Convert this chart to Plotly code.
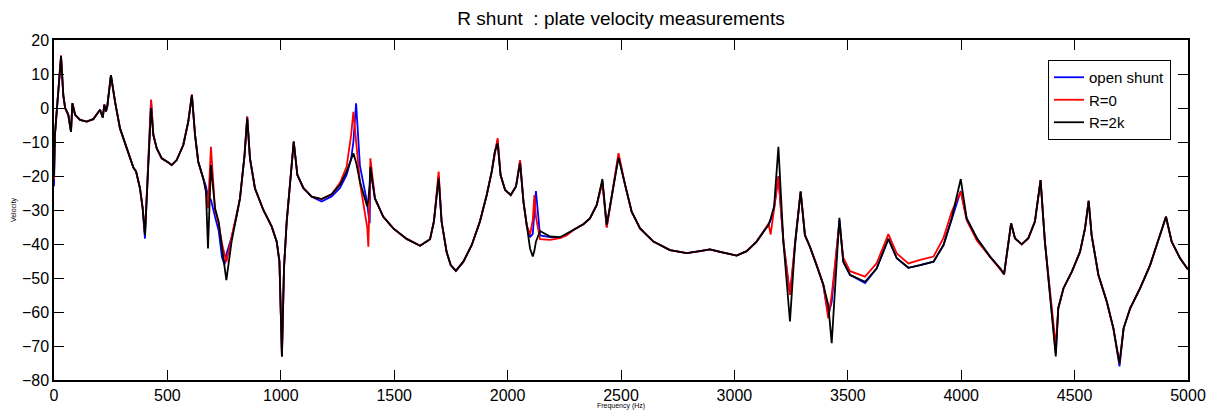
import plotly.graph_objects as go

freq = [0, 4, 12, 22, 31, 41, 49, 63, 75, 81, 93, 115, 144, 173, 203, 215, 222, 229, 235, 251,
        269, 291, 320, 347, 350, 362, 379, 391, 401, 428, 438, 453, 475, 504, 519, 541, 570, 592, 608, 622,
        636, 658, 670, 679, 692, 710, 726, 741, 752, 760, 783, 806, 820, 840, 852, 864, 886, 923, 960, 982,
        994, 1005, 1014, 1026, 1043, 1057, 1073, 1100, 1136, 1180, 1224, 1261, 1290, 1310, 1320, 1332, 1349, 1381, 1386, 1392,
        1395, 1415, 1452, 1496, 1555, 1614, 1658, 1675, 1696, 1709, 1731, 1749, 1772, 1805, 1842, 1878, 1908, 1930, 1944, 1956,
        1969, 1989, 2014, 2037, 2055, 2070, 2084, 2099, 2111, 2118, 2125, 2143, 2187, 2231, 2260, 2290, 2334, 2363, 2393, 2418,
        2437, 2489, 2518, 2547, 2584, 2643, 2716, 2790, 2848, 2892, 2937, 3010, 3054, 3098, 3128, 3150, 3160, 3175, 3194, 3216,
        3245, 3268, 3292, 3311, 3333, 3363, 3392, 3414, 3429, 3463, 3480, 3510, 3576, 3627, 3679, 3716, 3767, 3819, 3878, 3922,
        3958, 3998, 4024, 4069, 4127, 4172, 4189, 4220, 4237, 4267, 4296, 4325, 4350, 4369, 4392, 4417, 4428, 4451, 4488, 4524,
        4546, 4562, 4575, 4605, 4642, 4671, 4698, 4716, 4745, 4789, 4833, 4877, 4903, 4928, 4965, 5000]

r2k = [-20, -8, -1, 8, 15.3, 3.8, 0, -2, -7, 1.4, -2, -3.5, -4, -3.3, -0.5, -2.8, 1, -1, 0.5, 9.7,
       1.9, -6, -11.9, -17.3, -17.5, -18.7, -23.6, -29.5, -37.4, 0, -7.9, -11.9, -14.8, -16, -16.8, -15.3, -10.9, -4, 3.8, -8,
       -15.8, -20.7, -24.6, -41.3, -16.8, -29.5, -33.4, -41.3, -46, -50.6, -39.3, -31.5, -26.6, -14, -3, -14.8, -23.6, -30, -34.9, -39.3,
       -45.2, -73.1, -47.2, -33.4, -20.7, -9.9, -19.7, -23.6, -26.1, -26.8, -25.4, -22.6, -18.7, -15, -13.3, -16, -21.7, -29, -27, -22,
       -17.3, -26.6, -32, -35.4, -38.5, -40.5, -38.6, -33.4, -20.7, -33.4, -42.3, -46.2, -47.9, -45.2, -40.3, -33.4, -25.6, -18.7, -12.8, -10.4,
       -19.7, -24.1, -25.6, -23.1, -16.3, -27.6, -34.4, -41.3, -43.7, -42, -39.3, -36.2, -37.8, -38, -37, -35.9, -34.2, -32.5, -28.5, -20.9,
       -34.4, -14.6, -22.6, -30.5, -35.4, -39.3, -41.8, -42.7, -42.1, -41.6, -42.3, -43.4, -42.1, -39.3, -36.4, -34.4, -32.5, -29, -11.4, -39.3,
       -62.8, -39.3, -24.6, -37.4, -40.8, -46.2, -52, -58, -69.2, -32.3, -45.2, -49.1, -51.1, -47.2, -38.5, -44.2, -47, -46.2, -45.2, -40.3,
       -32.5, -20.9, -32.5, -38.3, -43.7, -47.2, -48.9, -33.9, -38.3, -40.1, -38.3, -33.4, -21.2, -39.3, -55, -73.1, -58.9, -53, -48.1, -42.3,
       -35.4, -27.3, -37.4, -49.1, -57, -64.8, -75.1, -64.8, -58.9, -53, -46.2, -37.4, -32, -39.3, -44.2, -47.5]

r0 = [-21, -8, -1, 8, 15.5, 3.8, 0, -2, -7, 1.4, -2, -3.5, -4, -3.3, -0.5, -2.8, 1, -1, 0.5, 9.7,
      1.9, -6, -11.9, -17.3, -17.5, -18.7, -23.6, -29.5, -37, 2.5, -7.9, -11.9, -14.8, -16, -16.8, -15.3, -10.9, -4, 4, -8,
      -15.8, -20.7, -24, -29.5, -11.4, -30, -34, -40, -43, -45.3, -38, -31.5, -26.6, -14, -2.5, -14.8, -23.6, -30, -34.9, -39.3,
      -45.2, -73.1, -47.2, -33.4, -20.7, -9.9, -19.7, -23.6, -26.1, -26.8, -25.4, -22, -17.3, -8, -1.1, -10, -22, -35, -40.8, -25,
      -14.8, -26.6, -32, -35.4, -38.5, -40.5, -38.6, -33.4, -18.7, -33.4, -42.3, -46.2, -47.9, -45.2, -40.3, -33.4, -25.6, -18.7, -12.8, -8.9,
      -19.7, -24.1, -25.6, -23.1, -15.3, -27.6, -34.4, -37.2, -33, -25.6, -32, -38.6, -38.8, -38.3, -37.5, -35.9, -34.2, -32.5, -28.5, -22,
      -35.2, -13.3, -22.6, -30.5, -35.4, -39.3, -41.8, -42.7, -42.1, -41.6, -42.3, -43.4, -42.1, -39.3, -36.4, -34, -37.2, -30, -20.2, -39.3,
      -55, -39.3, -24.6, -37.4, -40.8, -46.2, -52, -61.9, -55, -34, -44, -48, -49.6, -45.7, -37.1, -42.8, -45.7, -44.7, -43.7, -38.2,
      -30.5, -24.6, -33, -39, -43.7, -47.2, -48.9, -33.9, -38.3, -40.1, -38.3, -33.4, -21.2, -39.3, -55, -70, -58.9, -53, -48.1, -42.3,
      -35.4, -27.3, -37.4, -49.1, -57, -64.8, -75.1, -64.8, -58.9, -53, -46.2, -37.4, -32, -39.3, -44.2, -47.5]

open_shunt = [-23, -8, -1, 8, 15, 3.8, 0, -2, -7, 1.4, -2, -3.5, -4, -3.3, -0.5, -2.8, 1, -1, 0.5, 9.7,
              1.9, -6, -11.9, -17.3, -17.5, -18.7, -23.6, -29.5, -38.4, 2.3, -7.9, -11.9, -14.8, -16, -16.8, -15.3, -10.9, -4, 3.8, -8,
              -15.8, -20.7, -23, -26, -27, -32, -36, -44, -46, -43, -38, -31.5, -26.6, -14, -2.5, -14.8, -23.6, -30, -34.9, -39.3,
              -45.2, -73.1, -47.2, -33.4, -20.7, -9.9, -19.7, -23.6, -26.1, -27.5, -26, -23.5, -19.7, -15, -10, 1.4, -17, -28, -31, -33.9,
              -18, -26.6, -32, -35.4, -38.5, -40.5, -38.6, -33.4, -20, -33.4, -42.3, -46.2, -47.9, -45.2, -40.3, -33.4, -25.6, -18.7, -12.8, -9.5,
              -19.7, -24.1, -25.6, -23.1, -15.5, -27.6, -34.4, -38, -37, -31, -24.4, -37.5, -38, -38.2, -37, -35.9, -34.2, -32.5, -28.5, -21.5,
              -35, -14, -22.6, -30.5, -35.4, -39.3, -41.8, -42.7, -42.1, -41.6, -42.3, -43.4, -42.1, -39.3, -36.4, -34.4, -33, -29.5, -20, -39.3,
              -55, -39.3, -24.6, -37.4, -40.8, -46.2, -52, -61, -57, -33, -45.2, -49.1, -51.5, -47.2, -38.5, -44.2, -47, -46.2, -45.2, -40.3,
              -33, -24.4, -32.5, -38.3, -43.7, -47.2, -48.9, -33.9, -38.3, -40.1, -38.3, -33.4, -21.2, -39.3, -55, -72, -58.9, -53, -48.1, -42.3,
              -35.4, -27.3, -37.4, -49.1, -57, -64.8, -76, -64.8, -58.9, -53, -46.2, -37.4, -32, -39.3, -44.2, -47.5]

series_names = ["open shunt", "R=0", "R=2k"]
series_values = [open_shunt, r0, r2k]
series_colors = ["#0000ff", "#ff0000", "#000000"]

fig = go.Figure()
for name, vals, col in zip(series_names, series_values, series_colors):
    fig.add_trace(go.Scatter(x=freq, y=vals, mode="lines", name=name,
                             line=dict(color=col, width=1.8)))

# the page body adds an 8px offset, so the figure is 8px smaller
W, H = 1211, 402
ML, MR, MT, MB = 46, 31, 32, 30

font_family = "Liberation Sans, Arial, sans-serif"
axis_common = dict(showline=True, linecolor="black", linewidth=1.5, mirror="ticks",
                   ticks="inside", ticklen=10, tickcolor="black", tickwidth=1,
                   showgrid=False, zeroline=False, automargin=False,
                   tickfont=dict(family=font_family, size=16, color="black"))

plot_w = W - ML - MR
plot_h = H - MT - MB

fig.update_layout(
    width=W, height=H,
    margin=dict(l=ML, r=MR, t=MT, b=MB, autoexpand=False),
    paper_bgcolor="white", plot_bgcolor="white",
    title=dict(text="R shunt  : plate velocity measurements", x=(ML + plot_w / 2) / W,
               xanchor="center", y=1 - 10 / H, yanchor="middle",
               font=dict(family=font_family, size=19, color="black")),
    xaxis=dict(range=[0, 5000], dtick=500, tick0=0,
               title=dict(text="Frequency (Hz)", font=dict(family=font_family, size=7, color="black"),
                          standoff=2),
               **axis_common),
    yaxis=dict(range=[-80, 20], dtick=10, tick0=0,
               title=dict(text="Velocity", font=dict(family=font_family, size=7, color="black"),
                          standoff=4),
               **axis_common),
    legend=dict(x=(1040 - ML) / plot_w, y=(plot_h - 20) / plot_h, xanchor="left", yanchor="top",
                bgcolor="white", bordercolor="black", borderwidth=1,
                font=dict(family=font_family, size=15, color="black"),
                tracegroupgap=0, itemwidth=30),
    showlegend=True,
)

fig.write_html("out.html")
